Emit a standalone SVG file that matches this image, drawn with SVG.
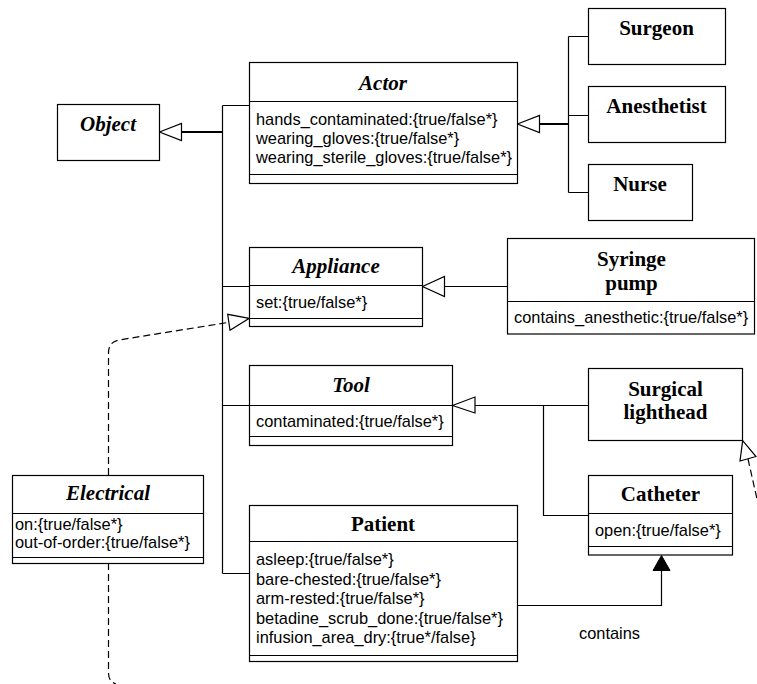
<svg xmlns="http://www.w3.org/2000/svg" width="757" height="684" viewBox="0 0 757 684">
<style>
.box{fill:#fff;stroke:#000;stroke-width:1.2}
.sep{stroke:#000;stroke-width:1.2;fill:none}
.ln{stroke:#000;stroke-width:1.2;fill:none}
.thk{stroke:#000;stroke-width:2;fill:none}
.dash{stroke:#000;stroke-width:1.2;fill:none;stroke-dasharray:7 4}
.tri{fill:#fff;stroke:#000;stroke-width:1.2}
.ftri{fill:#000;stroke:#000;stroke-width:1}
.t{font-family:"Liberation Serif","Times New Roman",serif;font-weight:bold;font-size:21px;text-anchor:middle}
.ti{font-family:"Liberation Serif","Times New Roman",serif;font-weight:bold;font-style:italic;font-size:21px;text-anchor:middle}
.a{font-family:"Liberation Sans",Arial,sans-serif;font-size:16.4px}
</style>
<rect width="757" height="684" fill="#fff"/>
<g id="connectors">
<path class="ln" d="M222.5,105.5 V573.5 M222.5,105.5 H249.5 M222.5,286.5 H249.5 M222.5,405.5 H249.5 M222.5,573.5 H249.5"/>
<path class="thk" d="M181.5,132 H222.5"/>
<polygon class="tri" points="159.5,132 181.5,123.5 181.5,140.5"/>
<path class="thk" d="M539.5,124 H568.5"/>
<path class="ln" d="M568.5,36.5 V192.5 M568.5,36.5 H588.5 M568.5,115.5 H588.5 M568.5,192.5 H588.5"/>
<polygon class="tri" points="517.5,124 539.5,115.5 539.5,132.5"/>
<path class="ln" d="M444.5,286.5 H507.5"/>
<polygon class="tri" points="422.5,286.5 444.5,276.5 444.5,296.5"/>
<path class="ln" d="M475,405.5 H588.5 M543.5,405.5 V515.5 H588.5"/>
<polygon class="tri" points="452.5,405.5 475,397 475,413"/>
<path class="ln" d="M517.5,605.5 H661.5 V570"/>
<polygon class="ftri" points="661.5,555.5 653,570.5 670,570.5"/>
<text class="a" x="579" y="639">contains</text>
<path class="dash" d="M108.5,475 V353 Q108.5,341.5 120,339.8 L229,322.3"/>
<polygon class="tri" points="249.3,318.3 227.7,314.3 230,330.3"/>
<path class="dash" d="M108.5,563 V673 Q108.5,681.5 116,684"/>
<polygon class="tri" points="742.7,440.7 740,461 756,456.5"/>
<path class="dash" d="M748,459 L757,499"/>
</g>
<g id="Object">
<rect class="box" x="57.5" y="104.5" width="102" height="56"/>
<text class="ti" x="108" y="131">Object</text>
</g>
<g id="Actor">
<rect class="box" x="249.5" y="62.5" width="268" height="121"/>
<path class="sep" d="M249.5,101.5 H517.5 M249.5,174.5 H517.5"/>
<text class="ti" x="383" y="90">Actor</text>
<text class="a" x="256" y="125">hands_contaminated:{true/false*}</text>
<text class="a" x="256" y="144">wearing_gloves:{true/false*}</text>
<text class="a" x="256" y="163">wearing_sterile_gloves:{true/false*}</text>
</g>
<g id="Surgeon">
<rect class="box" x="588.5" y="8.5" width="137" height="56"/>
<text class="t" x="656.5" y="35">Surgeon</text>
</g>
<g id="Anesthetist">
<rect class="box" x="588.5" y="86.5" width="137" height="56"/>
<text class="t" x="656.5" y="113">Anesthetist</text>
</g>
<g id="Nurse">
<rect class="box" x="588.5" y="164.5" width="104" height="56"/>
<text class="t" x="640" y="191">Nurse</text>
</g>
<g id="Appliance">
<rect class="box" x="249.5" y="247.5" width="173" height="79"/>
<path class="sep" d="M249.5,285.5 H422.5 M249.5,318.5 H422.5"/>
<text class="ti" x="336" y="273">Appliance</text>
<text class="a" x="256" y="308">set:{true/false*}</text>
</g>
<g id="SyringePump">
<rect class="box" x="507.5" y="238.5" width="247" height="95.5"/>
<path class="sep" d="M507.5,301.5 H754.5"/>
<text class="t" x="631.5" y="266">Syringe</text>
<text class="t" x="631.5" y="290">pump</text>
<text class="a" x="514" y="323">contains_anesthetic:{true/false*}</text>
</g>
<g id="Tool">
<rect class="box" x="249.5" y="365.5" width="203" height="80"/>
<path class="sep" d="M249.5,405.5 H452.5 M249.5,436.5 H452.5"/>
<text class="ti" x="351" y="392">Tool</text>
<text class="a" x="256" y="427">contaminated:{true/false*}</text>
</g>
<g id="SurgicalLighthead">
<rect class="box" x="588.5" y="368.5" width="154" height="72"/>
<text class="t" x="665.5" y="396">Surgical</text>
<text class="t" x="665.5" y="419">lighthead</text>
</g>
<g id="Catheter">
<rect class="box" x="588.5" y="475.5" width="144" height="79.5"/>
<path class="sep" d="M588.5,513.5 H732.5 M588.5,546.5 H732.5"/>
<text class="t" x="660.5" y="501">Catheter</text>
<text class="a" x="595" y="536">open:{true/false*}</text>
</g>
<g id="Electrical">
<rect class="box" x="12.5" y="475.5" width="191" height="88"/>
<path class="sep" d="M12.5,513.5 H203.5 M12.5,557.5 H203.5"/>
<text class="ti" x="108" y="500">Electrical</text>
<text class="a" x="15" y="530">on:{true/false*}</text>
<text class="a" x="15" y="548">out-of-order:{true/false*}</text>
</g>
<g id="Patient">
<rect class="box" x="249.5" y="505.5" width="268" height="156"/>
<path class="sep" d="M249.5,541.5 H517.5 M249.5,655.5 H517.5"/>
<text class="t" x="383" y="531">Patient</text>
<text class="a" x="256" y="565">asleep:{true/false*}</text>
<text class="a" x="256" y="584.5">bare-chested:{true/false*}</text>
<text class="a" x="256" y="604">arm-rested:{true/false*}</text>
<text class="a" x="256" y="623.5">betadine_scrub_done:{true/false*}</text>
<text class="a" x="256" y="643">infusion_area_dry:{true*/false}</text>
</g>
</svg>
